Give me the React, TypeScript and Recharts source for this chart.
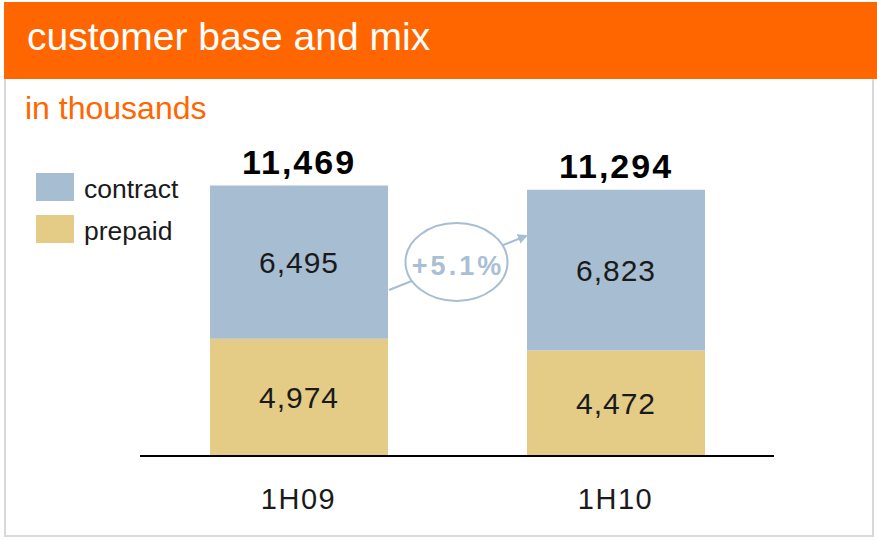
import React from 'react';
import { BarChart, Bar, XAxis, YAxis, LabelList } from 'recharts';

const periods = ['1H09', '1H10'];
const prepaid = [4974, 4472];
const contract = [6495, 6823];
const totals = [11469, 11294];
const growthLabel = '+5.1%';

const CONTRACT_COLOR = '#a7bdd2';
const PREPAID_COLOR = '#e4cc86';
const ORANGE = '#ff6600';
const FONT = '"Liberation Sans", Arial, Helvetica, sans-serif';

const W = 877;
const H = 540;

const data = periods.map((p, i) => ({
    period: p,
    prepaid: prepaid[i],
    contract: contract[i],
    total: totals[i],
}));

const fmt = (v: number) => new Intl.NumberFormat('en-US').format(v);

// eslint-disable-next-line @typescript-eslint/no-explicit-any
const renderSegmentLabel = (props: any) => {
    const { x, y, width, height, value } = props;
    return (
        <text
            x={x + width / 2}
            y={y + height / 2 + 11}
            textAnchor="middle"
            fontSize={30}
            letterSpacing={1}
            fill="#1a1a1a"
            fontFamily={FONT}
        >
            {fmt(value)}
        </text>
    );
};

// eslint-disable-next-line @typescript-eslint/no-explicit-any
const renderTotalLabel = (props: any) => {
    const { x, y, width, value } = props;
    return (
        <text
            x={x + width / 2}
            y={y - 12}
            textAnchor="middle"
            fontSize={34}
            letterSpacing={2}
            fontWeight="bold"
            fill="#000"
            fontFamily={FONT}
        >
            {fmt(value)}
        </text>
    );
};

const GrowthBubble = () => (
    <g>
        <defs>
            <marker id="arrowHead" markerWidth="10" markerHeight="10" refX="8" refY="5" orient="auto" markerUnits="userSpaceOnUse">
                <path d="M0,0 L10,5 L0,10 z" fill={CONTRACT_COLOR} />
            </marker>
        </defs>
        <line x1={389} y1={290} x2={526} y2={236} stroke={CONTRACT_COLOR} strokeWidth={2} markerEnd="url(#arrowHead)" />
        <ellipse cx={456.5} cy={262} rx={51} ry={39} fill="#fff" stroke={CONTRACT_COLOR} strokeWidth={2} />
        <text x={458} y={275} textAnchor="middle" fontSize={27} fontWeight="bold" letterSpacing={3} fill="#a9bfd4" fontFamily={FONT}>
            {growthLabel}
        </text>
    </g>
);

const legendItems = [
    { name: 'contract', color: CONTRACT_COLOR },
    { name: 'prepaid', color: PREPAID_COLOR },
];

export default function App() {
    return (
        <div style={{ position: 'absolute', left: 0, top: 0, width: W, height: H, background: '#fff', fontFamily: FONT, overflow: 'hidden' }}>
            {/* frame */}
            <div style={{ position: 'absolute', left: 4, top: 2, width: W - 4 - 3, height: H - 2 - 3, border: '2px solid #d9d9d9', borderTop: 'none', boxSizing: 'border-box' }} />
            {/* header */}
            <div style={{ position: 'absolute', left: 4, top: 2, width: W - 4, height: 77, background: ORANGE }} />
            <div style={{ position: 'absolute', left: 27, top: 17, fontSize: 39, lineHeight: 1, color: '#fff', whiteSpace: 'nowrap' }}>
                customer base and mix
            </div>
            <div style={{ position: 'absolute', left: 25, top: 92, fontSize: 32, lineHeight: 1, color: ORANGE, whiteSpace: 'nowrap' }}>
                in thousands
            </div>
            {/* legend */}
            {legendItems.map((item, i) => (
                <div key={item.name} style={{ position: 'absolute', left: 36, top: 173 + i * 42, height: 28, display: 'flex', alignItems: 'center' }}>
                    <div style={{ width: 38, height: 28, background: item.color }} />
                    <span style={{ marginLeft: 10, fontSize: 26.5, color: '#1a1a1a', lineHeight: 1, position: 'relative', top: 2 }}>{item.name}</span>
                </div>
            ))}
            <div style={{ position: 'absolute', left: 0, top: 0 }}>
                <BarChart width={W} height={H} data={data} margin={{ top: 173, right: 103, bottom: 0, left: 140 }}>
                    <XAxis
                        dataKey="period"
                        height={84}
                        axisLine={{ stroke: '#000', strokeWidth: 2 }}
                        tickLine={false}
                        tickMargin={26}
                        tick={{ fontSize: 29, fill: '#1a1a1a', fontFamily: FONT, letterSpacing: 1.5 }}
                    />
                    <YAxis hide domain={[0, 12000]} />
                    <Bar dataKey="prepaid" stackId="a" fill={PREPAID_COLOR} barSize={178} isAnimationActive={false}>
                        <LabelList dataKey="prepaid" content={renderSegmentLabel} />
                    </Bar>
                    <Bar dataKey="contract" stackId="a" fill={CONTRACT_COLOR} barSize={178} isAnimationActive={false}>
                        <LabelList dataKey="contract" content={renderSegmentLabel} />
                        <LabelList dataKey="total" content={renderTotalLabel} />
                    </Bar>
                    <GrowthBubble />
                </BarChart>
            </div>
        </div>
    );
}
